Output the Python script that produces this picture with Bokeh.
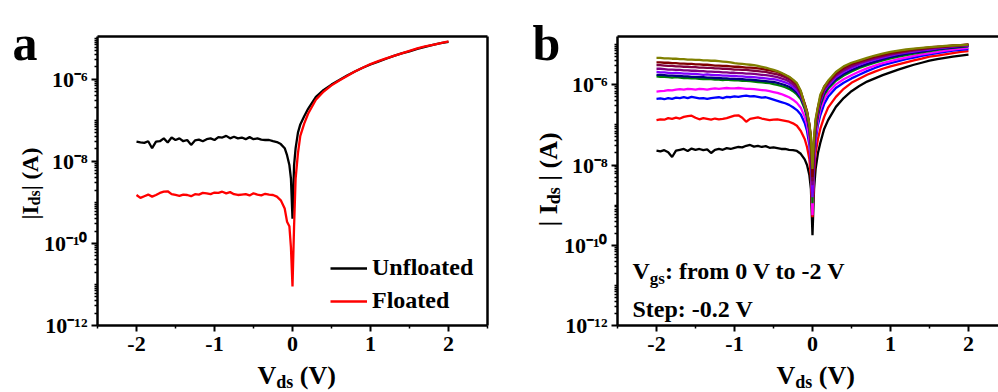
import numpy as np
from bokeh.plotting import figure
from bokeh.models import (FixedTicker, CustomJSTickFormatter, LinearAxis, Label,
                          Legend, LegendItem, Range1d, GridBox)
from bokeh.embed import file_html
from bokeh.resources import INLINE

# ---------------- data ----------------
# drain voltage grid, V
vds = [-2.0, -1.95, -1.9, -1.85, -1.8, -1.75, -1.7, -1.65, -1.6, -1.55,
       -1.5, -1.45, -1.4, -1.35, -1.3, -1.25, -1.2, -1.15, -1.1, -1.05,
       -1.0, -0.95, -0.9, -0.85, -0.8, -0.75, -0.7, -0.65, -0.6, -0.55,
       -0.5, -0.45, -0.4, -0.35, -0.3, -0.25, -0.2,
       -0.15, -0.1, -0.07, -0.04, -0.02, 0.0, 0.02, 0.04, 0.07, 0.1, 0.15,
       0.2, 0.3, 0.4, 0.5, 0.6, 0.7, 0.8, 0.9, 1.0, 1.1, 1.2, 1.3, 1.4,
       1.5, 1.6, 1.7, 1.8, 1.9, 2.0]

# panel a : log10 |Ids| (A)
log_ids_unfloated = (
    [-7.52, -7.54, -7.55, -7.51, -7.68, -7.52, -7.51, -7.44, -7.54, -7.42,
     -7.48, -7.44, -7.51, -7.48, -7.60, -7.49, -7.47, -7.51, -7.46, -7.44,
     -7.48, -7.41, -7.42, -7.38, -7.44, -7.40, -7.44, -7.42, -7.46, -7.41,
     -7.46, -7.44, -7.47, -7.48, -7.48, -7.51, -7.53]
    + [-7.58, -7.68, -7.85, -8.09, -8.42, -9.40, -8.10, -7.68, -7.30, -7.10, -6.90]
    + [-6.72, -6.43, -6.26, -6.13, -6.02, -5.91, -5.81, -5.72, -5.64, -5.57,
       -5.50, -5.43, -5.37, -5.32, -5.26, -5.21, -5.16, -5.12, -5.09])
log_ids_floated = (
    [-8.82, -8.89, -8.85, -8.81, -8.86, -8.82, -8.77, -8.74, -8.73, -8.80,
     -8.82, -8.84, -8.81, -8.82, -8.85, -8.80, -8.81, -8.77, -8.78, -8.80,
     -8.76, -8.77, -8.74, -8.78, -8.75, -8.80, -8.82, -8.81, -8.80, -8.83,
     -8.78, -8.81, -8.83, -8.79, -8.81, -8.82, -8.86]
    + [-8.95, -9.15, -9.47, -9.58, -10.10, -11.05, -9.60, -8.42, -7.80, -7.38, -7.08]
    + [-6.84, -6.50, -6.30, -6.15, -6.03, -5.92, -5.81, -5.72, -5.63, -5.56,
       -5.49, -5.43, -5.37, -5.31, -5.25, -5.20, -5.16, -5.12, -5.08])

# panel b : log10 |Ids| (A) for Vgs = 0 ... -2 V (step -0.2 V)
log_ids_vgs_0_0 = (
    [-7.64, -7.66, -7.63, -7.68, -7.80, -7.64, -7.62, -7.60, -7.65, -7.59,
     -7.62, -7.60, -7.63, -7.61, -7.70, -7.62, -7.60, -7.62, -7.58, -7.60,
     -7.57, -7.55, -7.56, -7.52, -7.50, -7.54, -7.52, -7.55, -7.53, -7.57,
     -7.56, -7.58, -7.60, -7.60, -7.62, -7.63, -7.65]
    + [-7.72, -7.86, -8.00, -8.25, -8.60, -9.75, -8.60, -8.10, -7.70, -7.45, -7.10]
    + [-6.88, -6.55, -6.33, -6.16, -6.03, -5.92, -5.84, -5.76, -5.69, -5.62,
       -5.56, -5.50, -5.45, -5.40, -5.36, -5.33, -5.30, -5.27, -5.25])
log_ids_vgs_0_2 = (
    [-6.88, -6.86, -6.87, -6.83, -6.85, -6.82, -6.84, -6.80, -6.78, -6.77,
     -6.82, -6.86, -6.83, -6.85, -6.87, -6.84, -6.86, -6.85, -6.83, -6.80,
     -6.77, -6.76, -6.82, -6.92, -6.85, -6.83, -6.81, -6.84, -6.86, -6.88,
     -6.87, -6.86, -6.88, -6.90, -6.92, -6.96, -7.02]
    + [-7.15, -7.35, -7.55, -7.85, -8.30, -9.30, -8.20, -7.70, -7.35, -7.10, -6.80]
    + [-6.57, -6.30, -6.10, -5.95, -5.85, -5.75, -5.67, -5.60, -5.54, -5.49,
       -5.44, -5.39, -5.35, -5.30, -5.27, -5.24, -5.21, -5.18, -5.16])
log_ids_vgs_0_4 = (
    [-6.35, -6.34, -6.36, -6.33, -6.35, -6.32, -6.33, -6.31, -6.33, -6.30,
     -6.32, -6.34, -6.33, -6.35, -6.33, -6.32, -6.31, -6.33, -6.30, -6.31,
     -6.29, -6.30, -6.28, -6.27, -6.29, -6.28, -6.30, -6.32, -6.31, -6.34,
     -6.37, -6.40, -6.43, -6.46, -6.50, -6.56, -6.63]
    + [-6.74, -6.95, -7.15, -7.50, -7.95, -8.90, -8.00, -7.40, -7.00, -6.76, -6.48]
    + [-6.30, -6.08, -5.95, -5.84, -5.75, -5.66, -5.58, -5.51, -5.46, -5.41,
       -5.36, -5.32, -5.28, -5.24, -5.21, -5.18, -5.15, -5.13, -5.11])
log_ids_vgs_0_6 = (
    [-6.17, -6.16, -6.15, -6.13, -6.14, -6.12, -6.11, -6.12, -6.10, -6.11,
     -6.12, -6.10, -6.11, -6.12, -6.10, -6.09, -6.10, -6.09, -6.08, -6.09,
     -6.09, -6.08, -6.09, -6.10, -6.10, -6.11, -6.12, -6.13, -6.14, -6.16,
     -6.18, -6.20, -6.23, -6.27, -6.31, -6.37, -6.45]
    + [-6.57, -6.80, -7.00, -7.35, -7.85, -9.25, -7.90, -7.30, -6.90, -6.62, -6.36]
    + [-6.20, -5.99, -5.86, -5.76, -5.67, -5.59, -5.52, -5.46, -5.41, -5.36,
       -5.32, -5.28, -5.24, -5.21, -5.18, -5.15, -5.12, -5.10, -5.08])
log_ids_vgs_0_8 = (
    [-5.79, -5.80, -5.80, -5.81, -5.82, -5.81, -5.82, -5.83, -5.83, -5.84,
     -5.84, -5.85, -5.86, -5.85, -5.86, -5.87, -5.87, -5.88, -5.87, -5.88,
     -5.89, -5.89, -5.90, -5.90, -5.91, -5.92, -5.93, -5.94, -5.95, -5.96,
     -5.98, -6.00, -6.03, -6.06, -6.10, -6.16, -6.24]
    + [-6.36, -6.60, -6.82, -7.15, -7.60, -8.95, -7.70, -7.15, -6.78, -6.52, -6.25]
    + [-6.10, -5.90, -5.77, -5.67, -5.58, -5.51, -5.45, -5.39, -5.34, -5.30,
       -5.26, -5.22, -5.19, -5.16, -5.13, -5.10, -5.08, -5.06, -5.04])
log_ids_vgs_1_0 = (
    [-5.75, -5.75, -5.76, -5.77, -5.77, -5.78, -5.78, -5.79, -5.79, -5.80,
     -5.80, -5.81, -5.81, -5.82, -5.82, -5.83, -5.83, -5.84, -5.84, -5.85,
     -5.85, -5.86, -5.86, -5.87, -5.87, -5.88, -5.89, -5.90, -5.91, -5.92,
     -5.93, -5.95, -5.98, -6.01, -6.05, -6.11, -6.20]
    + [-6.32, -6.55, -6.76, -7.10, -7.50, -8.70, -7.60, -7.08, -6.72, -6.47, -6.20]
    + [-6.06, -5.86, -5.73, -5.63, -5.55, -5.48, -5.42, -5.36, -5.31, -5.27,
       -5.23, -5.20, -5.17, -5.14, -5.11, -5.09, -5.07, -5.05, -5.03])
log_ids_vgs_1_2 = (
    [-5.68, -5.69, -5.69, -5.70, -5.71, -5.70, -5.71, -5.72, -5.72, -5.73,
     -5.73, -5.74, -5.75, -5.74, -5.75, -5.76, -5.76, -5.77, -5.77, -5.78,
     -5.78, -5.79, -5.79, -5.80, -5.80, -5.81, -5.82, -5.83, -5.84, -5.85,
     -5.86, -5.88, -5.91, -5.94, -5.98, -6.05, -6.14]
    + [-6.28, -6.52, -6.72, -7.05, -7.45, -8.80, -7.55, -7.02, -6.67, -6.42, -6.15]
    + [-6.02, -5.81, -5.68, -5.58, -5.50, -5.43, -5.37, -5.32, -5.27, -5.23,
       -5.20, -5.17, -5.14, -5.12, -5.09, -5.07, -5.05, -5.03, -5.02])
log_ids_vgs_1_4 = (
    [-5.60, -5.60, -5.61, -5.62, -5.62, -5.63, -5.63, -5.64, -5.64, -5.65,
     -5.65, -5.66, -5.66, -5.67, -5.67, -5.68, -5.68, -5.69, -5.69, -5.70,
     -5.70, -5.71, -5.71, -5.72, -5.72, -5.73, -5.74, -5.75, -5.76, -5.77,
     -5.79, -5.81, -5.84, -5.87, -5.92, -5.99, -6.08]
    + [-6.24, -6.50, -6.70, -7.02, -7.40, -8.50, -7.50, -6.98, -6.63, -6.38, -6.12]
    + [-5.98, -5.77, -5.64, -5.54, -5.46, -5.40, -5.34, -5.29, -5.25, -5.21,
       -5.18, -5.15, -5.12, -5.10, -5.08, -5.06, -5.04, -5.02, -5.01])
log_ids_vgs_1_6 = (
    [-5.51, -5.51, -5.52, -5.53, -5.53, -5.54, -5.54, -5.55, -5.55, -5.56,
     -5.56, -5.57, -5.57, -5.58, -5.58, -5.59, -5.59, -5.60, -5.60, -5.61,
     -5.62, -5.62, -5.63, -5.63, -5.64, -5.65, -5.66, -5.67, -5.68, -5.70,
     -5.72, -5.74, -5.77, -5.81, -5.86, -5.93, -6.02]
    + [-6.20, -6.48, -6.68, -7.00, -7.35, -8.40, -7.45, -6.95, -6.60, -6.35, -6.08]
    + [-5.95, -5.74, -5.60, -5.50, -5.43, -5.37, -5.31, -5.27, -5.22, -5.19,
       -5.16, -5.13, -5.11, -5.08, -5.06, -5.05, -5.03, -5.02, -5.00])
log_ids_vgs_1_8 = (
    [-5.44, -5.44, -5.45, -5.45, -5.46, -5.46, -5.47, -5.47, -5.48, -5.48,
     -5.49, -5.49, -5.50, -5.50, -5.51, -5.52, -5.52, -5.53, -5.53, -5.54,
     -5.55, -5.55, -5.56, -5.57, -5.57, -5.58, -5.59, -5.60, -5.62, -5.64,
     -5.66, -5.68, -5.72, -5.76, -5.81, -5.89, -5.98]
    + [-6.17, -6.47, -6.66, -6.98, -7.30, -8.30, -7.40, -6.90, -6.56, -6.31, -6.04]
    + [-5.92, -5.71, -5.57, -5.47, -5.41, -5.35, -5.29, -5.25, -5.20, -5.17,
       -5.14, -5.11, -5.09, -5.07, -5.05, -5.04, -5.02, -5.01, -4.99])
log_ids_vgs_2_0 = (
    [-5.33, -5.33, -5.34, -5.34, -5.35, -5.35, -5.36, -5.36, -5.37, -5.37,
     -5.38, -5.38, -5.39, -5.39, -5.40, -5.40, -5.41, -5.42, -5.43, -5.44,
     -5.46, -5.47, -5.48, -5.49, -5.50, -5.51, -5.53, -5.55, -5.57, -5.60,
     -5.63, -5.66, -5.70, -5.75, -5.80, -5.87, -5.96]
    + [-6.15, -6.50, -6.68, -6.98, -7.30, -8.10, -7.30, -6.85, -6.55, -6.25, -6.05]
    + [-5.90, -5.68, -5.54, -5.45, -5.39, -5.33, -5.27, -5.22, -5.18, -5.15,
       -5.12, -5.10, -5.08, -5.06, -5.05, -5.03, -5.02, -5.01, -5.00])

panel_b_series = [log_ids_vgs_0_0, log_ids_vgs_0_2, log_ids_vgs_0_4, log_ids_vgs_0_6,
                  log_ids_vgs_0_8, log_ids_vgs_1_0, log_ids_vgs_1_2, log_ids_vgs_1_4,
                  log_ids_vgs_1_6, log_ids_vgs_1_8, log_ids_vgs_2_0]
panel_b_colors = ["#000000", "#FF0000", "#0000FF", "#FF00FF", "#008000", "#000080",
                  "#7F00FF", "#800080", "#800040", "#800000", "#808000"]

legend_labels = ["Unfloated", "Floated"]
x_tick_values = [-2, -1, 0, 1, 2]
x_tick_labels = ["-2", "-1", "0", "1", "2"]
x_minor_ticks = [-2.5, -1.5, -0.5, 0.5, 1.5, 2.5]
y_label_exponents = [-12, -10, -8, -6]
y_minor_exponents = [-12, -11, -10, -9, -8, -7, -6, -5]
y_tick_labels = ["10\u207b\u00b9\u00b2", "10\u207b\u00b9\u2070", "10\u207b\u2078", "10\u207b\u2076"]

for s in [log_ids_unfloated, log_ids_floated] + panel_b_series:
    assert len(s) == len(vds), len(s)

FONT = "Liberation Serif"
H = 392
LW = 2.3


def style_axes(p):
    p.grid.visible = False
    p.background_fill_color = "white"
    p.border_fill_color = "white"
    for ax in p.xaxis + p.yaxis:
        ax.axis_line_width = 2.5
        ax.axis_line_color = "black"
        ax.major_tick_line_width = 2
        ax.minor_tick_line_width = 1.5
        ax.major_tick_in = 0
        ax.major_tick_out = 6
        ax.minor_tick_in = 0
        ax.minor_tick_out = 3
        ax.major_label_text_font = FONT
        ax.major_label_text_font_style = "bold"
        ax.major_label_text_font_size = "22px"
        ax.major_label_text_color = "black"
    xa = p.xaxis[0]
    xa.ticker = FixedTicker(ticks=x_tick_values, minor_ticks=x_minor_ticks)
    xa.major_label_overrides = {v: l for v, l in zip(x_tick_values, x_tick_labels)}
    xa.major_label_standoff = 5
    ya = p.yaxis[0]
    minors = [k * 10.0 ** e for e in y_minor_exponents for k in range(2, 10)]
    minors += [10.0 ** e for e in y_minor_exponents if e not in y_label_exponents]
    ya.ticker = FixedTicker(ticks=[10.0 ** e for e in y_label_exponents], minor_ticks=minors)
    ya.formatter = CustomJSTickFormatter(
        args=dict(exps=y_label_exponents, labels=y_tick_labels),
        code="const e = Math.round(Math.log10(tick)); const i = exps.indexOf(e); return i >= 0 ? labels[i] : '';")
    ya.major_label_standoff = 4


def border_axis(p, side):
    ax = LinearAxis(ticker=FixedTicker(ticks=[]), major_tick_line_color=None,
                    minor_tick_line_color=None, axis_line_width=2.5, axis_line_color="black")
    p.add_layout(ax, side)


def text(p, x, y, s, size, angle=0.0, units="screen"):
    p.add_layout(Label(x=x, y=y, x_units=units, y_units=units, text=s, angle=angle,
                       text_font=FONT, text_font_style="bold", text_font_size=f"{size}px",
                       text_baseline="alphabetic", text_align="left", text_color="black"))


# Times-bold advance widths (em) for chaining text pieces
W = {" ": .25, "|": .22, "(": .333, ")": .333, "A": .722, "I": .389, "V": .722,
     "d": .556, "s": .389, "g": .5}


def tw(s, size):
    return sum(W.get(c, .5) for c in s) * size


def lead(s, size):
    """width of leading blanks (they are dropped by the SVG text renderer)"""
    return (len(s) - len(s.lstrip(" "))) * W[" "] * size


# ---------------- panel a ----------------
pa = figure(width=500, height=H, y_axis_type="log",
            x_range=Range1d(-2.5, 2.5), y_range=Range1d(1e-12, 1.1e-5),
            output_backend="svg", toolbar_location=None,
            min_border_left=97, min_border_right=13, min_border_top=36, min_border_bottom=67)
pa.outline_line_color = None
pa.frame_align = False
style_axes(pa)
border_axis(pa, "above")
border_axis(pa, "right")

r_unf = pa.line(vds, 10.0 ** np.array(log_ids_unfloated), line_color="black", line_width=LW)
r_flo = pa.line(vds, 10.0 ** np.array(log_ids_floated), line_color="red", line_width=LW)

leg = Legend(items=[LegendItem(label=legend_labels[0], renderers=[r_unf]),
                    LegendItem(label=legend_labels[1], renderers=[r_flo])],
             location=(233, 11), padding=0, margin=0, border_line_color=None,
             background_fill_alpha=0, glyph_width=37, glyph_height=24, label_height=24,
             label_standoff=5, spacing=6, label_text_font=FONT, label_text_color="black",
             label_text_font_style="bold", label_text_font_size="24px")
pa.add_layout(leg)

# ---------------- panel b ----------------
pb = figure(width=498, height=H, y_axis_type="log",
            x_range=Range1d(-2.5, 2.385), y_range=Range1d(1e-12, 1.6e-5),
            output_backend="svg", toolbar_location=None,
            min_border_left=117, min_border_right=0, min_border_top=36, min_border_bottom=67)
pb.outline_line_color = None
pb.frame_align = False
style_axes(pb)
border_axis(pb, "above")

for series, color in zip(panel_b_series, panel_b_colors):
    pb.line(vds, 10.0 ** np.array(series), line_color=color, line_width=LW)

x = 15.0
text(pb, x, 55, "V", 24)
x += tw("V", 24)
text(pb, x, 47, "gs", 17)
x += tw("gs", 17)
text(pb, x, 55, ": from 0 V to -2 V", 24)
text(pb, 15, 17, "Step: -0.2 V", 24)

# ---------------- overlay for texts outside the plot frames ----------------
# coordinates of this overlay are page pixels: x = window_x, y = 392 - window_y
ov = figure(width=998, height=H, x_range=Range1d(0, 998), y_range=Range1d(0, H),
            x_axis_location=None, y_axis_location=None, output_backend="svg",
            toolbar_location=None, min_border=0)
ov.frame_align = False
ov.grid.visible = False
ov.outline_line_color = None
ov.background_fill_alpha = 0
ov.border_fill_alpha = 0


def otext(wx, wy, s, size, angle=0.0):
    text(ov, wx, H - wy, s, size, angle=angle, units="data")


def vlabel(wx_main, wx_sub, wy0, pieces):
    wy = wy0
    for s, size, sub in pieces:
        wy -= lead(s, size)
        otext(wx_sub if sub else wx_main, wy, s.lstrip(" "), size, angle=np.pi / 2)
        wy -= tw(s.lstrip(" "), size)


def hlabel(wx0, wy_main, wy_sub, pieces):
    wx = wx0
    for s, size, sub in pieces:
        wx += lead(s, size)
        otext(wx, wy_sub if sub else wy_main, s.lstrip(" "), size)
        wx += tw(s.lstrip(" "), size)


otext(12, 42, "a", 50)
otext(532, 42, "b", 50)
vlabel(30, 34, 219, [("|I", 23, False), ("ds", 16, True), ("| (A)", 23, False)])
vlabel(548, 553, 226, [("| I", 26, False), ("ds", 18, True), (" | (A)", 26, False)])
hlabel(257, 375, 381, [("V", 26, False), ("ds", 18, True), (" (V)", 26, False)])
hlabel(776, 375, 381, [("V", 26, False), ("ds", 18, True), (" (V)", 26, False)])

layout = GridBox(children=[(pa, 0, 0), (pb, 0, 1), (ov, 0, 0, 1, 2)])
with open("out.html", "w", encoding="utf-8") as f:
    f.write(file_html(layout, INLINE))
